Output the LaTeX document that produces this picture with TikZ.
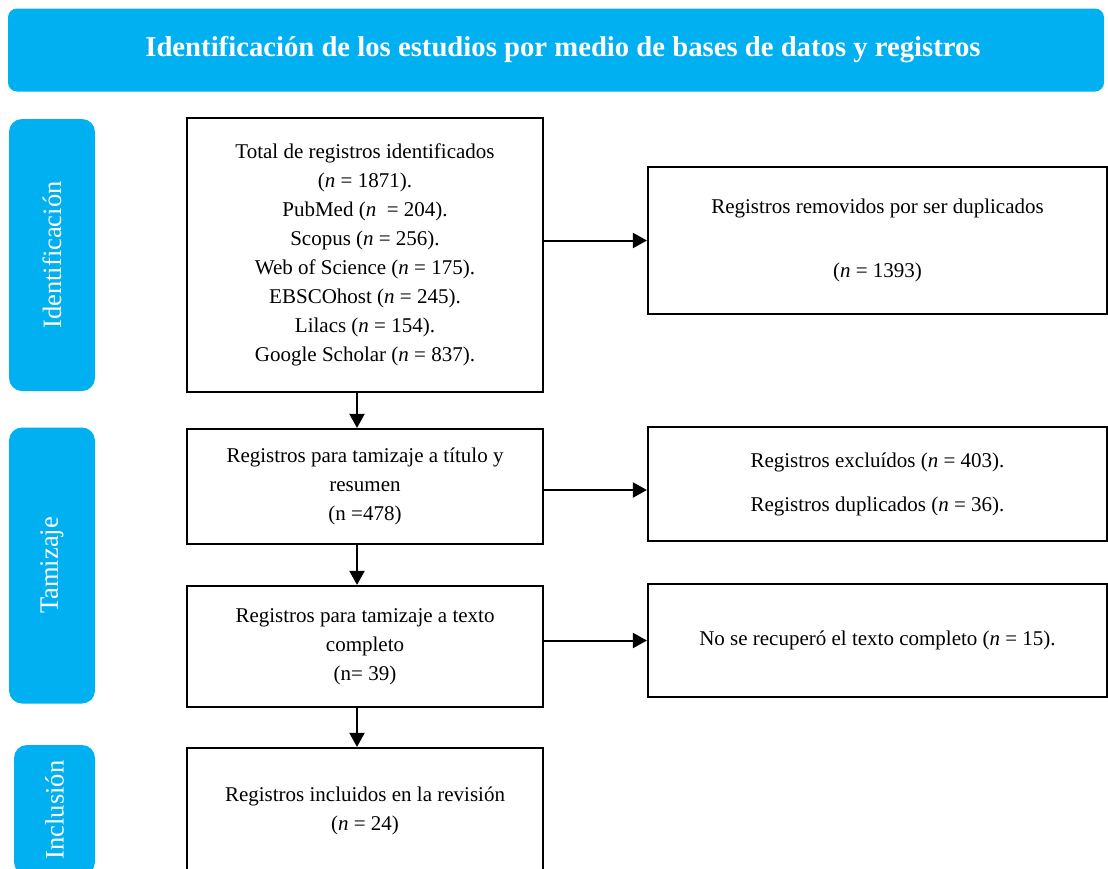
\documentclass[tikz,border=0pt]{standalone}
\usepackage{fontspec}
\setmainfont{Liberation Serif}
\usetikzlibrary{arrows.meta}
\definecolor{hdr}{HTML}{00B0F0}
\begin{document}
\begin{tikzpicture}[x=1pt,y=-1pt,
  box/.style={draw=black, line width=2.2pt, align=center, font=\fontsize{21}{29}\selectfont, inner sep=0pt},
  phase/.style={fill=hdr, rounded corners=13pt, text=white, font=\fontsize{26.5}{30}\selectfont, rotate=90, inner sep=0pt},
  arr/.style={line width=2pt, -{Triangle[length=14pt,width=15pt]}}]
\clip (0,0) rectangle (1108,868);
\useasboundingbox (0,0) rectangle (1108,868);
% header
\node[fill=hdr, rounded corners=9pt, text=white, font=\bfseries\fontsize{28.7}{32}\selectfont,
      minimum width=1096pt, minimum height=83pt, inner sep=0pt] (hd) at (556,50)
  {\hspace{14pt}Identificación de los estudios por medio de bases de datos y registros};
% phases
\node[phase, minimum width=272pt, minimum height=86pt] (p1) at (52,255) {Identificación};
\node[phase, minimum width=276pt, minimum height=86pt] (p2) at (52,565.5) {Tamizaje};
\node[phase, minimum width=130pt, minimum height=81pt] (p3) at (54.5,810) {Inclusión};
% main boxes
\node[box, minimum width=356pt, minimum height=274pt] (b1) at (365,255)
  {Total de registros identificados\\(\textit{n} = 1871).\\PubMed (\textit{n}\ \ = 204).\\Scopus (\textit{n} = 256).\\Web of Science (\textit{n} = 175).\\EBSCOhost (\textit{n} = 245).\\Lilacs (\textit{n} = 154).\\Google Scholar (\textit{n} = 837).};
\node[box, minimum width=356pt, minimum height=115pt] (b2) at (365,486.5)
  {Registros para tamizaje a título y\\resumen\\(n =478)};
\node[box, minimum width=356pt, minimum height=121pt] (b3) at (365,646.5)
  {Registros para tamizaje a texto\\completo\\(n= 39)};
\node[box, minimum width=356pt, minimum height=126pt] (b4) at (365,811)
  {Registros incluidos en la revisión\\(\textit{n} = 24)};
% right boxes
\node[box, minimum width=459pt, minimum height=147pt] (r1) at (877.5,240.5)
  {Registros removidos por ser duplicados\\[35pt](\textit{n} = 1393)};
\node[box, minimum width=459pt, minimum height=114pt] (r2) at (877.5,484)
  {Registros excluídos (\textit{n} = 403).\\[15pt]Registros duplicados (\textit{n} = 36).};
\node[box, minimum width=459pt, minimum height=113pt] (r3) at (877.5,640.5)
  {No se recuperó el texto completo (\textit{n} = 15).};
% arrows
\draw[arr] ([xshift=-8pt]b1.south) -- ([xshift=-8pt]b1.south |- b2.north);
\draw[arr] ([xshift=-8pt]b2.south) -- ([xshift=-8pt]b2.south |- b3.north);
\draw[arr] ([xshift=-8pt]b3.south) -- ([xshift=-8pt]b3.south |- b4.north);
\draw[arr] (r1.west -| b1.east) -- (r1.west);
\draw[arr] ([yshift=-3.5pt]b2.east) -- ([yshift=-3.5pt]b2.east -| r2.west);
\draw[arr] (r3.west -| b3.east) -- (r3.west);
\end{tikzpicture}
\end{document}
